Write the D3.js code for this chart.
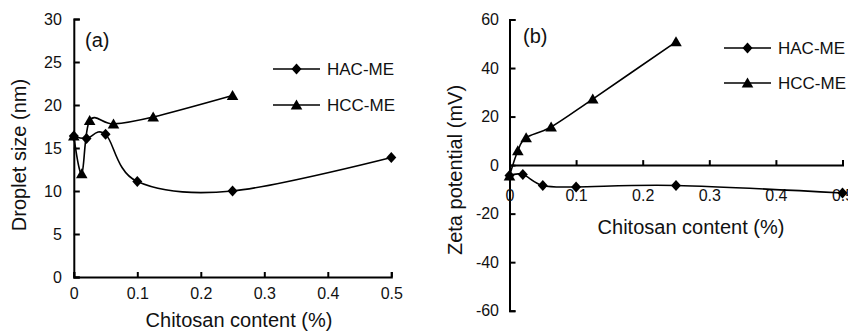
<!DOCTYPE html>
<html>
<head>
<meta charset="utf-8">
<script src="https://cdn.jsdelivr.net/npm/d3@7"></script>
<style>
  body { margin: 0; background: #fff; }
  svg { display: block; font-family: "Liberation Sans", Arial, sans-serif; }
</style>
</head>
<body>
<div id="chart"></div>
<script>
// chitosan concentrations (%) for each formulation
var hacX = [0, 0.02, 0.05, 0.1, 0.25, 0.5]
var hccX = [0, 0.0125, 0.025, 0.0625, 0.125, 0.25]

// (a) droplet size, nm
var sizeHAC = [16.4, 16.1, 16.6, 11.1, 10.0, 13.9]
var sizeHCC = [16.4, 12.0, 18.2, 17.8, 18.6, 21.1]

// (b) zeta potential, mV
var zetaHAC = [-4.3, -3.9, -8.4, -9.0, -8.4, -11.5]
var zetaHCC = [-4.5, 5.9, 11.3, 15.7, 27.2, 50.8]

var xTicks = [0, 0.1, 0.2, 0.3, 0.4, 0.5]
var sizeTicks = [0, 5, 10, 15, 20, 25, 30]
var zetaTicks = [-60, -40, -20, 0, 20, 40, 60]
var seriesNames = ["HAC-ME", "HCC-ME"]

var W = 848, H = 331

var svg = d3.select("#chart").append("svg")
  .attr("width", W)
  .attr("height", H)

var diamond = "M0,-5.5L5,0L0,5.5L-5,0Z"
var triangle = "M0,-5.5L5.8,4.5L-5.8,4.5Z"

function drawPanel(p) {
  var g = svg.append("g")

  var x = d3.scaleLinear().domain([0, 0.5]).range(p.xRange)
  var y = d3.scaleLinear().domain(p.yDomain).range(p.yRange)

  // y axis, ticks point inward (plain hyphen for negatives)
  var yAxis = g.append("g")
    .attr("transform", "translate(" + p.xRange[0] + ",0)")
    .call(d3.axisLeft(y).tickValues(p.yTicks).tickFormat(function(d) { return String(d) })
      .tickSizeInner(-6).tickSizeOuter(-6).tickPadding(p.yPad))

  // x axis sits on y = 0
  var xAxis = g.append("g")
    .attr("transform", "translate(0," + y(0) + ")")
    .call(d3.axisBottom(x).tickValues(xTicks).tickFormat(function(d) { return d === 0 ? "0" : d3.format(".1f")(d) })
      .tickSizeInner(-5).tickSizeOuter(-5).tickPadding(p.xPad))

  ;[yAxis, xAxis].forEach(function(a) {
    a.attr("font-size", 16).attr("font-family", null)
    a.select(".domain").attr("stroke", "#000").attr("stroke-width", 2)
    a.selectAll(".tick line").attr("stroke", "#000").attr("stroke-width", 2)
    a.selectAll(".tick text").attr("fill", "#111")
  })

  // smoothed lines like the spreadsheet original
  var line = d3.line()
    .x(function(d) { return x(d[0]) })
    .y(function(d) { return y(d[1]) })
    .curve(d3.curveCatmullRom.alpha(0))

  var series = [
    { xs: hacX, ys: p.hac, sym: diamond },
    { xs: hccX, ys: p.hcc, sym: triangle }
  ]

  series.forEach(function(s) {
    var pts = s.xs.map(function(v, i) { return [v, s.ys[i]] })
    g.append("path")
      .datum(pts)
      .attr("d", line)
      .attr("fill", "none")
      .attr("stroke", "#000")
      .attr("stroke-width", 1.6)
    g.selectAll(null)
      .data(pts)
      .enter()
      .append("path")
      .attr("d", s.sym)
      .attr("transform", function(d) { return "translate(" + x(d[0]) + "," + y(d[1]) + ")" })
      .attr("fill", "#000")
  })

  // legend
  series.forEach(function(s, i) {
    var ly = p.legend.y[i]
    g.append("line")
      .attr("x1", p.legend.x).attr("x2", p.legend.x + 47)
      .attr("y1", ly).attr("y2", ly)
      .attr("stroke", "#000").attr("stroke-width", 1.6)
    g.append("path")
      .attr("d", s.sym)
      .attr("transform", "translate(" + (p.legend.x + 23.5) + "," + ly + ")")
      .attr("fill", "#000")
    g.append("text")
      .attr("x", p.legend.x + 54)
      .attr("y", ly)
      .attr("dy", "0.36em")
      .attr("font-size", 17)
      .attr("fill", "#111")
      .text(seriesNames[i])
  })

  // panel tag
  g.append("text")
    .attr("x", p.tag.x).attr("y", p.tag.y)
    .attr("font-size", 20)
    .attr("fill", "#111")
    .text(p.tag.text)

  // axis titles
  g.append("text")
    .attr("x", p.xTitle.x).attr("y", p.xTitle.y)
    .attr("text-anchor", "middle")
    .attr("font-size", 20)
    .attr("fill", "#111")
    .text("Chitosan content (%)")

  g.append("text")
    .attr("transform", "translate(" + p.yTitle.x + "," + p.yTitle.y + ") rotate(-90)")
    .attr("text-anchor", "middle")
    .attr("font-size", 20)
    .attr("fill", "#111")
    .text(p.yTitle.text)
}

drawPanel({
  xRange: [73.8, 391.3],
  yDomain: [0, 30],
  yRange: [277, 19],
  yTicks: sizeTicks,
  yPad: 12,
  xPad: 11,
  hac: sizeHAC,
  hcc: sizeHCC,
  legend: { x: 273, y: [69, 105] },
  tag: { x: 85, y: 47, text: "(a)" },
  xTitle: { x: 239, y: 327 },
  yTitle: { x: 26, y: 155, text: "Droplet size (nm)" }
})

drawPanel({
  xRange: [509.5, 842.5],
  yDomain: [-60, 60],
  yRange: [310.7, 19.5],
  yTicks: zetaTicks,
  yPad: 10.5,
  xPad: 25,
  hac: zetaHAC,
  hcc: zetaHCC,
  legend: { x: 724, y: [48, 83] },
  tag: { x: 523, y: 43, text: "(b)" },
  xTitle: { x: 691, y: 233.5 },
  yTitle: { x: 462, y: 170, text: "Zeta potential (mV)" }
})
</script>
</body>
</html>
